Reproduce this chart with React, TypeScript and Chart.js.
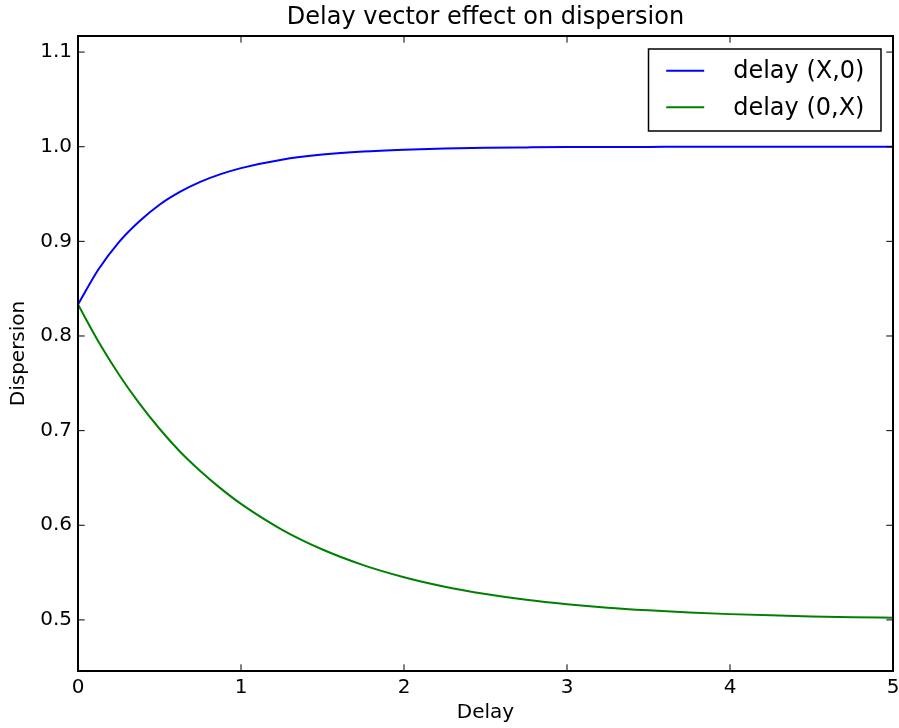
import React, { useEffect, useRef } from 'react';
import { Chart, registerables } from 'chart.js';

Chart.register(...registerables);

const delays = [0, 0.125, 0.25, 0.375, 0.5, 0.625, 0.75, 0.875, 1, 1.25, 1.5, 1.75, 2, 2.25, 2.5, 2.75, 3, 3.25, 3.5, 3.75, 4, 4.25, 4.5, 4.75, 5];
const dispersionX0 = [0.8333, 0.8702, 0.8989, 0.9209, 0.9387, 0.9522, 0.9628, 0.971, 0.9774, 0.9863, 0.9917, 0.995, 0.9969, 0.9981, 0.9989, 0.9993, 0.9996, 0.9997, 0.9998, 0.9999, 0.9999, 1.0, 1.0, 1.0, 1.0];
const dispersion0X = [0.8333, 0.7942, 0.7596, 0.729, 0.702, 0.678, 0.6574, 0.639, 0.6226, 0.5955, 0.5744, 0.5579, 0.5451, 0.5351, 0.5274, 0.5213, 0.5166, 0.5129, 0.5101, 0.5078, 0.5061, 0.5048, 0.5037, 0.5029, 0.5023];
const seriesLabels = ['delay (X,0)', 'delay (0,X)'];
const seriesColors = ['#0000ff', '#008000'];
const xTicks = [0, 1, 2, 3, 4, 5];
const yTicks = [0.5, 0.6, 0.7, 0.8, 0.9, 1.0, 1.1];
const titleText = 'Delay vector effect on dispersion';
const xLabel = 'Delay';
const yLabel = 'Dispersion';

const FONT = "'DejaVu Sans', sans-serif";

const framePlugin = {
  id: 'mplFrame',
  afterDraw(chart: any) {
    const { ctx, chartArea } = chart;
    const { left, right, top, bottom } = chartArea;
    const xs = chart.scales.x;
    const ys = chart.scales.y;
    const tl = 6.7;
    ctx.save();
    ctx.strokeStyle = '#000';
    ctx.lineWidth = 1;
    ctx.beginPath();
    xTicks.forEach((v) => {
      const px = xs.getPixelForValue(v);
      ctx.moveTo(px, bottom);
      ctx.lineTo(px, bottom - tl);
      ctx.moveTo(px, top);
      ctx.lineTo(px, top + tl);
    });
    yTicks.forEach((v) => {
      const py = ys.getPixelForValue(v);
      ctx.moveTo(left, py);
      ctx.lineTo(left + tl, py);
      ctx.moveTo(right, py);
      ctx.lineTo(right - tl, py);
    });
    ctx.stroke();
    ctx.lineWidth = 2;
    ctx.strokeRect(left, top, right - left, bottom - top);

    // legend
    const bw = 232.5;
    const bh = 82;
    const bx0 = right - 12 - bw;
    const by0 = top + 13;
    ctx.fillStyle = '#fff';
    ctx.fillRect(bx0, by0, bw, bh);
    ctx.lineWidth = 1.5;
    ctx.strokeStyle = '#000';
    ctx.strokeRect(bx0, by0, bw, bh);
    ctx.font = `24px ${FONT}`;
    ctx.textBaseline = 'middle';
    ctx.textAlign = 'left';
    chart.data.datasets.forEach((ds: any, i: number) => {
      const ly = by0 + 21.7 + i * 36.6;
      ctx.strokeStyle = ds.borderColor;
      ctx.lineWidth = 2;
      ctx.beginPath();
      ctx.moveTo(bx0 + 17.7, ly);
      ctx.lineTo(bx0 + 55.7, ly);
      ctx.stroke();
      ctx.fillStyle = '#000';
      ctx.fillText(ds.label, bx0 + 84.7, ly + 1);
    });
    ctx.restore();
  },
};

export default function App() {
  const ref = useRef<HTMLCanvasElement | null>(null);

  useEffect(() => {
    if (!ref.current) return;
    const chart = new Chart(ref.current, {
      type: 'line',
      data: {
        datasets: [
          {
            label: seriesLabels[0],
            data: delays.map((d, i) => ({ x: d, y: dispersionX0[i] })),
            borderColor: seriesColors[0],
            backgroundColor: seriesColors[0],
            borderWidth: 2,
            pointRadius: 0,
            fill: false,
            cubicInterpolationMode: 'monotone',
          },
          {
            label: seriesLabels[1],
            data: delays.map((d, i) => ({ x: d, y: dispersion0X[i] })),
            borderColor: seriesColors[1],
            backgroundColor: seriesColors[1],
            borderWidth: 2,
            pointRadius: 0,
            fill: false,
            cubicInterpolationMode: 'monotone',
          },
        ],
      },
      options: {
        animation: false,
        responsive: false,
        maintainAspectRatio: false,
        layout: { padding: { top: 0, right: 0, bottom: 0, left: 0 } },
        plugins: {
          legend: { display: false },
          tooltip: { enabled: false },
          title: {
            display: true,
            text: titleText,
            fullSize: false,
            color: '#000',
            font: { family: FONT, size: 24, weight: 'normal', lineHeight: 1.0 },
            padding: { top: 6, bottom: 6 },
          },
        },
        scales: {
          x: {
            type: 'linear',
            min: 0,
            max: 5,
            afterBuildTicks: (s: any) => {
              s.ticks = xTicks.map((v) => ({ value: v }));
            },
            afterFit: (s: any) => {
              s.height = 57;
              s.paddingRight = 6;
              s.paddingLeft = 0;
            },
            grid: { display: false, drawTicks: false },
            border: { display: false },
            ticks: {
              color: '#000',
              font: { family: FONT, size: 20, lineHeight: 1.2 },
              padding: 5,
              maxRotation: 0,
              autoSkip: false,
              callback: (v: any) => String(v),
            },
            title: {
              display: true,
              text: xLabel,
              color: '#000',
              font: { family: FONT, size: 20, lineHeight: 1.2 },
              padding: { top: 0, bottom: 3.5 },
            },
          },
          y: {
            type: 'linear',
            min: 0.446,
            max: 1.117,
            afterBuildTicks: (s: any) => {
              s.ticks = yTicks.map((v) => ({ value: v }));
            },
            afterFit: (s: any) => {
              s.width = 78;
              s.paddingTop = 0;
              s.paddingBottom = 0;
            },
            grid: { display: false, drawTicks: false },
            border: { display: false },
            ticks: {
              color: '#000',
              font: { family: FONT, size: 20, lineHeight: 1.2 },
              padding: 6,
              autoSkip: false,
              callback: (v: any) => Number(v).toFixed(1),
            },
            title: {
              display: true,
              text: yLabel,
              color: '#000',
              font: { family: FONT, size: 20, lineHeight: 1.2 },
              padding: { top: 7, bottom: 0 },
            },
          },
        },
      },
      plugins: [framePlugin],
    } as any);
    return () => chart.destroy();
  }, []);

  return (
    <div style={{ position: 'fixed', left: 0, top: 0, width: 899, height: 728, background: '#fff' }}>
      <canvas ref={ref} width={899} height={728} style={{ width: 899, height: 728, display: 'block' }} />
    </div>
  );
}
